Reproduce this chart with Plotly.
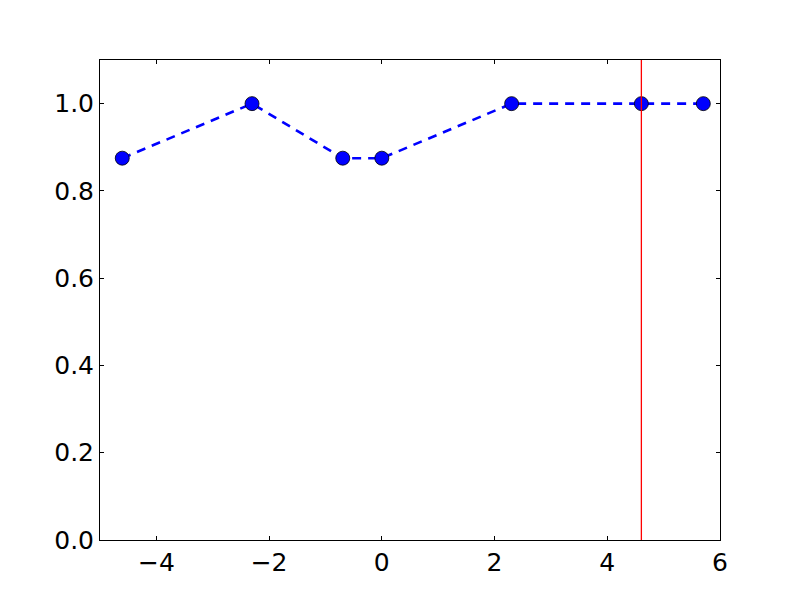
import plotly.graph_objects as go

# x values (log scale of parameter), y accuracy
x_vals = [-4.605, -2.303, -0.693, 0.0, 2.303, 4.605, 5.704]
y_vals = [0.875, 1.0, 0.875, 0.875, 1.0, 1.0, 1.0]
vline_x = 4.605

x_ticks = [-4, -2, 0, 2, 4, 6]
y_ticks = [0.0, 0.2, 0.4, 0.6, 0.8, 1.0]

fig = go.Figure()

fig.add_trace(go.Scatter(
    x=x_vals,
    y=y_vals,
    mode='lines+markers',
    line=dict(color='#0000FF', width=2.6, dash='9px,7px'),
    marker=dict(size=14, color='#0000FF', line=dict(color='black', width=0.8)),
    showlegend=False,
))

fig.add_shape(
    type='line', xref='x', yref='paper',
    x0=vline_x, x1=vline_x, y0=0, y1=1,
    line=dict(color='#FF0000', width=1.3),
)

axis_common = dict(
    showgrid=False,
    zeroline=False,
    showline=True,
    linecolor='black',
    linewidth=1,
    mirror='allticks',
    ticks='inside',
    ticklen=4,
    tickcolor='black',
    tickfont=dict(family='DejaVu Sans', size=25, color='black'),
)

# page body has an 8px margin, so shift the plot area back to match
fig.update_layout(
    width=800,
    height=600,
    plot_bgcolor='white',
    paper_bgcolor='white',
    margin=dict(l=92, r=88, t=52, b=68),
    xaxis=dict(range=[-5, 6], tickvals=x_ticks,
               ticktext=[('\u2212' + str(abs(t))) if t < 0 else str(t) for t in x_ticks],
               **axis_common),
    yaxis=dict(range=[0, 1.1], tickvals=y_ticks,
               ticktext=[f'{t:.1f}' for t in y_ticks],
               ticklabelstandoff=0, **axis_common),
)

fig.write_html("out.html")
